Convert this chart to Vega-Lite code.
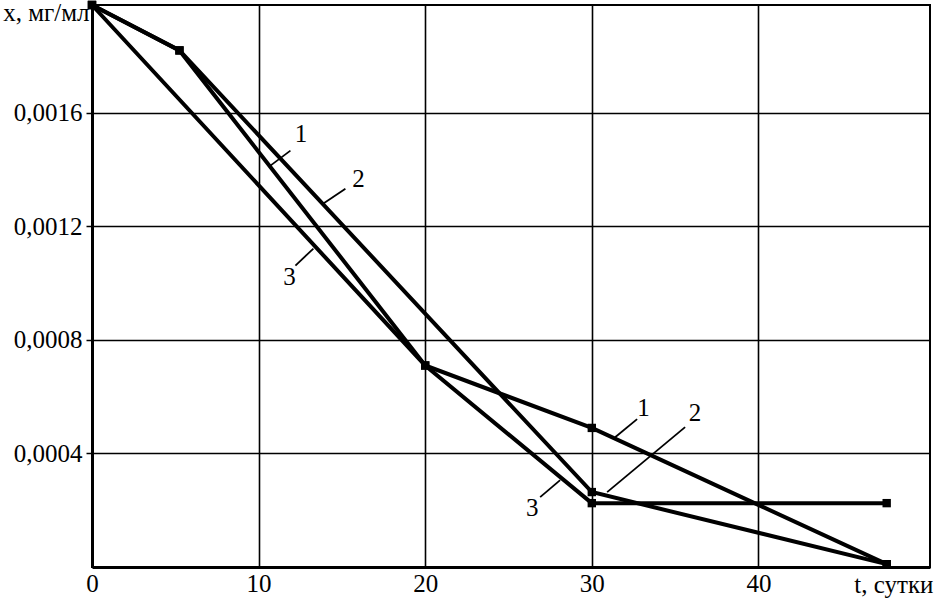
{
  "$schema": "https://vega.github.io/schema/vega-lite/v6.json",
  "width": 838,
  "height": 562,
  "autosize": {"type": "none"},
  "padding": {"left": 92, "top": 5, "right": 5, "bottom": 32},
  "background": "white",
  "config": {
    "view": {"stroke": "black", "strokeWidth": 2},
    "font": "Liberation Serif",
    "axis": {
      "labelFont": "Liberation Serif",
      "titleFont": "Liberation Serif",
      "labelColor": "black",
      "titleColor": "black",
      "labelFontSize": 25,
      "titleFontSize": 25,
      "titleFontWeight": "normal",
      "gridColor": "black",
      "gridWidth": 1.6,
      "gridOpacity": 1,
      "domainColor": "black",
      "domainWidth": 3,
      "tickColor": "black"
    }
  },
  "datasets": {
    "curves": [
      {"curve": "1", "t": 0, "x": 0.00198},
      {"curve": "1", "t": 5.25, "x": 0.00182},
      {"curve": "1", "t": 20, "x": 0.00071},
      {"curve": "1", "t": 30, "x": 0.00049},
      {"curve": "1", "t": 47.7, "x": 0.00001},
      {"curve": "2", "t": 0, "x": 0.00198},
      {"curve": "2", "t": 5.25, "x": 0.00182},
      {"curve": "2", "t": 30, "x": 0.000264},
      {"curve": "2", "t": 47.7, "x": 0.00001},
      {"curve": "3", "t": 0, "x": 0.00198},
      {"curve": "3", "t": 20, "x": 0.00071},
      {"curve": "3", "t": 30, "x": 0.000225},
      {"curve": "3", "t": 47.7, "x": 0.000225}
    ],
    "leaders": [
      {"t": 10.71, "x": 0.001414, "t2": 11.91, "x2": 0.001467},
      {"t": 13.89, "x": 0.001281, "t2": 15.21, "x2": 0.001333},
      {"t": 12.21, "x": 0.001062, "t2": 13.29, "x2": 0.001122},
      {"t": 31.4, "x": 0.000457, "t2": 32.72, "x2": 0.000521},
      {"t": 30.92, "x": 0.000264, "t2": 35.6, "x2": 0.000493},
      {"t": 26.9, "x": 0.000246, "t2": 28.1, "x2": 0.000306}
    ],
    "labels": [
      {"label": "1", "t": 12.55, "x": 0.001527},
      {"label": "2", "t": 16.0, "x": 0.001368},
      {"label": "3", "t": 11.85, "x": 0.00102},
      {"label": "1", "t": 33.1, "x": 0.000559},
      {"label": "2", "t": 36.2, "x": 0.000542},
      {"label": "3", "t": 26.42, "x": 0.000208}
    ]
  },
  "layer": [
    {
      "data": {"name": "curves"},
      "mark": {"type": "line", "color": "black", "strokeWidth": 4, "strokeJoin": "miter"},
      "encoding": {
        "x": {
          "field": "t", "type": "quantitative",
          "scale": {"domain": [0, 50.3], "nice": false, "zero": false},
          "axis": {
            "values": [0, 10, 20, 30, 40],
            "ticks": false,
            "labelPadding": 4,
            "labelFlush": false,
            "title": "t, сутки",
            "titleX": 841,
            "titleY": 17,
            "titleAlign": "right",
            "titleBaseline": "middle"
          }
        },
        "y": {
          "field": "x", "type": "quantitative",
          "scale": {"domain": [0, 0.00198], "nice": false},
          "axis": {
            "values": [0.0004, 0.0008, 0.0012, 0.0016],
            "labelExpr": "replace(format(datum.value, '.4f'), '.', ',')",
            "tickSize": 6,
            "tickWidth": 1.5,
            "labelPadding": 4,
            "title": "x, мг/мл",
            "titleAngle": 0,
            "titleX": -3,
            "titleY": 7,
            "titleAlign": "right",
            "titleBaseline": "middle"
          }
        },
        "detail": {"field": "curve"}
      }
    },
    {
      "data": {"name": "curves"},
      "mark": {"type": "square", "color": "black", "filled": true, "opacity": 1, "size": 70},
      "encoding": {
        "x": {"field": "t", "type": "quantitative"},
        "y": {"field": "x", "type": "quantitative"}
      }
    },
    {
      "data": {"name": "leaders"},
      "mark": {"type": "rule", "color": "black", "strokeWidth": 1.8},
      "encoding": {
        "x": {"field": "t", "type": "quantitative"},
        "y": {"field": "x", "type": "quantitative"},
        "x2": {"field": "t2"},
        "y2": {"field": "x2"}
      }
    },
    {
      "data": {"name": "labels"},
      "mark": {"type": "text", "color": "black", "font": "Liberation Serif", "fontSize": 25, "align": "center", "baseline": "middle"},
      "encoding": {
        "x": {"field": "t", "type": "quantitative"},
        "y": {"field": "x", "type": "quantitative"},
        "text": {"field": "label"}
      }
    }
  ]
}
